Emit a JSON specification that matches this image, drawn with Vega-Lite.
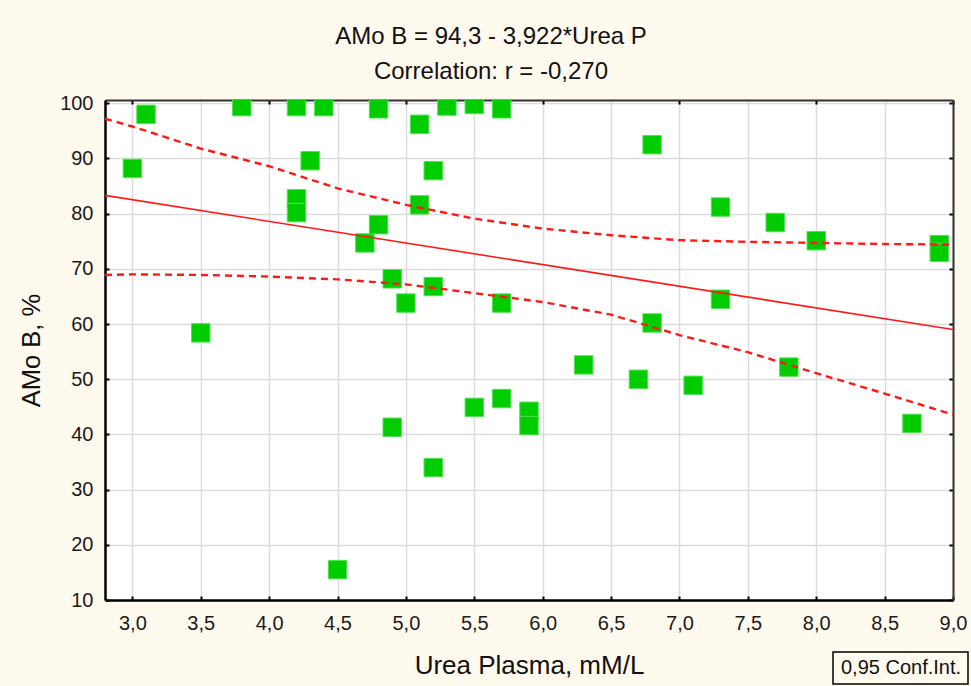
{
  "$schema": "https://vega.github.io/schema/vega-lite/v6.json",
  "autosize": {"type": "none"},
  "padding": {"left": 105, "top": 100, "right": 18, "bottom": 86},
  "width": 848,
  "height": 500,
  "background": "#fff9ee",
  "title": {
    "text": ["AMo B = 94,3 - 3,922*Urea P", "Correlation: r = -0,270"],
    "font": "Liberation Sans",
    "fontSize": 24,
    "fontWeight": "normal",
    "color": "#111111",
    "lineHeight": 35,
    "anchor": "middle",
    "dx": -38,
    "dy": 31,
    "baseline": "bottom",
    "offset": 16
  },
  "datasets": {
    "points": [
      {"urea": 3.0, "amo": 88.2}, {"urea": 3.1, "amo": 98.0}, {"urea": 3.5, "amo": 58.4},
      {"urea": 3.8, "amo": 99.4}, {"urea": 4.2, "amo": 99.4}, {"urea": 4.2, "amo": 82.7},
      {"urea": 4.2, "amo": 80.2}, {"urea": 4.3, "amo": 89.6}, {"urea": 4.4, "amo": 99.4},
      {"urea": 4.5, "amo": 15.5}, {"urea": 4.7, "amo": 74.7}, {"urea": 4.8, "amo": 99.0},
      {"urea": 4.8, "amo": 78.0}, {"urea": 4.9, "amo": 68.2}, {"urea": 4.9, "amo": 41.3},
      {"urea": 5.0, "amo": 63.8}, {"urea": 5.1, "amo": 96.2}, {"urea": 5.1, "amo": 81.6},
      {"urea": 5.2, "amo": 87.8}, {"urea": 5.2, "amo": 66.8}, {"urea": 5.2, "amo": 34.0},
      {"urea": 5.3, "amo": 99.5}, {"urea": 5.5, "amo": 99.8}, {"urea": 5.5, "amo": 44.9},
      {"urea": 5.7, "amo": 99.0}, {"urea": 5.7, "amo": 63.8}, {"urea": 5.7, "amo": 46.5},
      {"urea": 5.9, "amo": 44.2}, {"urea": 5.9, "amo": 41.6}, {"urea": 6.3, "amo": 52.6},
      {"urea": 6.7, "amo": 50.0}, {"urea": 6.8, "amo": 92.5}, {"urea": 6.8, "amo": 60.2},
      {"urea": 7.1, "amo": 48.9}, {"urea": 7.3, "amo": 81.2}, {"urea": 7.3, "amo": 64.5},
      {"urea": 7.7, "amo": 78.4}, {"urea": 7.8, "amo": 52.2}, {"urea": 8.0, "amo": 75.1},
      {"urea": 8.7, "amo": 42.0}, {"urea": 8.9, "amo": 74.4}, {"urea": 8.9, "amo": 73.0}
    ],
    "fit": [
      {"urea": 2.8, "amo": 83.32},
      {"urea": 9.0, "amo": 59.00}
    ],
    "bands": [
      {"urea": 2.8, "amo": 97.2, "band": "upper", "ci": "0,95 Conf.Int."},
      {"urea": 3.0, "amo": 95.8, "band": "upper", "ci": "0,95 Conf.Int."},
      {"urea": 3.5, "amo": 91.8, "band": "upper", "ci": "0,95 Conf.Int."},
      {"urea": 4.0, "amo": 88.6, "band": "upper", "ci": "0,95 Conf.Int."},
      {"urea": 4.5, "amo": 84.6, "band": "upper", "ci": "0,95 Conf.Int."},
      {"urea": 5.0, "amo": 81.6, "band": "upper", "ci": "0,95 Conf.Int."},
      {"urea": 5.5, "amo": 79.1, "band": "upper", "ci": "0,95 Conf.Int."},
      {"urea": 6.0, "amo": 77.3, "band": "upper", "ci": "0,95 Conf.Int."},
      {"urea": 6.5, "amo": 76.1, "band": "upper", "ci": "0,95 Conf.Int."},
      {"urea": 7.0, "amo": 75.2, "band": "upper", "ci": "0,95 Conf.Int."},
      {"urea": 7.5, "amo": 74.9, "band": "upper", "ci": "0,95 Conf.Int."},
      {"urea": 8.0, "amo": 74.7, "band": "upper", "ci": "0,95 Conf.Int."},
      {"urea": 8.5, "amo": 74.5, "band": "upper", "ci": "0,95 Conf.Int."},
      {"urea": 9.0, "amo": 74.4, "band": "upper", "ci": "0,95 Conf.Int."},
      {"urea": 2.8, "amo": 68.9, "band": "lower", "ci": "0,95 Conf.Int."},
      {"urea": 3.0, "amo": 69.0, "band": "lower", "ci": "0,95 Conf.Int."},
      {"urea": 3.5, "amo": 68.9, "band": "lower", "ci": "0,95 Conf.Int."},
      {"urea": 4.0, "amo": 68.6, "band": "lower", "ci": "0,95 Conf.Int."},
      {"urea": 4.5, "amo": 68.1, "band": "lower", "ci": "0,95 Conf.Int."},
      {"urea": 5.0, "amo": 67.2, "band": "lower", "ci": "0,95 Conf.Int."},
      {"urea": 5.5, "amo": 65.6, "band": "lower", "ci": "0,95 Conf.Int."},
      {"urea": 6.0, "amo": 64.0, "band": "lower", "ci": "0,95 Conf.Int."},
      {"urea": 6.5, "amo": 61.7, "band": "lower", "ci": "0,95 Conf.Int."},
      {"urea": 7.0, "amo": 58.0, "band": "lower", "ci": "0,95 Conf.Int."},
      {"urea": 7.5, "amo": 54.9, "band": "lower", "ci": "0,95 Conf.Int."},
      {"urea": 8.0, "amo": 51.1, "band": "lower", "ci": "0,95 Conf.Int."},
      {"urea": 8.5, "amo": 47.4, "band": "lower", "ci": "0,95 Conf.Int."},
      {"urea": 9.0, "amo": 43.6, "band": "lower", "ci": "0,95 Conf.Int."}
    ]
  },
  "resolve": {"axis": {"x": "independent", "y": "independent"}},
  "layer": [
    {
      "data": {"name": "points"},
      "mark": {"type": "square", "filled": true, "size": 340, "color": "#00cc00", "stroke": "#55e055", "strokeWidth": 1, "opacity": 1, "clip": true},
      "encoding": {
        "x": {
          "field": "urea", "type": "quantitative",
          "scale": {"domain": [2.8, 9.0], "nice": false, "zero": false},
          "axis": {
            "orient": "bottom",
            "title": "Urea Plasma, mM/L",
            "values": [3, 3.5, 4, 4.5, 5, 5.5, 6, 6.5, 7, 7.5, 8, 8.5, 9],
            "labelExpr": "replace(format(datum.value, '.1f'), '.', ',')",
            "labelFlush": false,
            "labelFont": "Liberation Sans", "labelFontSize": 20, "labelColor": "#1a1a1a",
            "labelPadding": 17,
            "tickSize": -4, "tickColor": "#000000", "tickWidth": 2,
            "domainColor": "#000000", "domainWidth": 2.5,
            "grid": true, "gridColor": "#dcdcdc", "gridWidth": 1.5,
            "titleFont": "Liberation Sans", "titleFontSize": 26, "titleFontWeight": "normal", "titleColor": "#111111",
            "titlePadding": 19
          }
        },
        "y": {
          "field": "amo", "type": "quantitative",
          "scale": {"domain": [10, 100.6], "nice": false, "zero": false},
          "axis": {
            "orient": "left",
            "title": "AMo B, %",
            "values": [10, 20, 30, 40, 50, 60, 70, 80, 90, 100],
            "labelFont": "Liberation Sans", "labelFontSize": 20, "labelColor": "#1a1a1a",
            "labelPadding": 16,
            "tickSize": -4, "tickColor": "#000000", "tickWidth": 2,
            "domainColor": "#000000", "domainWidth": 2.5,
            "grid": true, "gridColor": "#dcdcdc", "gridWidth": 1.5,
            "titleFont": "Liberation Sans", "titleFontSize": 25.5, "titleFontWeight": "normal", "titleColor": "#111111",
            "titlePadding": 15
          }
        }
      }
    },
    {
      "data": {"name": "fit"},
      "mark": {"type": "line", "color": "#ff1a1a", "strokeWidth": 1.6},
      "encoding": {
        "x": {
          "field": "urea", "type": "quantitative",
          "axis": {
            "orient": "top", "title": null, "labels": false, "grid": false,
            "values": [3, 4, 5, 6, 7, 8, 9],
            "tickSize": -4, "tickColor": "#000000", "tickWidth": 2,
            "domainColor": "#333333", "domainWidth": 2
          }
        },
        "y": {
          "field": "amo", "type": "quantitative",
          "axis": {
            "orient": "right", "title": null, "labels": false, "grid": false,
            "values": [10, 20, 30, 40, 50, 60, 70, 80, 90, 100],
            "tickSize": -4, "tickColor": "#000000", "tickWidth": 2,
            "domainColor": "#333333", "domainWidth": 2
          }
        }
      }
    },
    {
      "data": {"name": "bands"},
      "mark": {"type": "line", "color": "#ff1a1a", "strokeWidth": 2.4},
      "encoding": {
        "x": {"field": "urea", "type": "quantitative", "axis": null},
        "y": {"field": "amo", "type": "quantitative", "axis": null},
        "detail": {"field": "band"},
        "strokeDash": {
          "field": "ci", "type": "nominal",
          "scale": {"range": [[7, 5]]},
          "legend": {
            "title": null,
            "orient": "none",
            "legendX": 728,
            "legendY": 552,
            "padding": 6,
            "strokeColor": "#000000",
            "fillColor": "#fff9ee",
            "symbolSize": 0,
            "symbolStrokeWidth": 0,
            "labelOffset": -18,
            "labelFont": "Liberation Sans",
            "labelFontSize": 20,
            "labelColor": "#111111",
            "labelLimit": 400
          }
        }
      }
    }
  ],
  "config": {
    "view": {"fill": "white", "stroke": null},
    "legend": {"strokeWidth": 1.5}
  }
}
